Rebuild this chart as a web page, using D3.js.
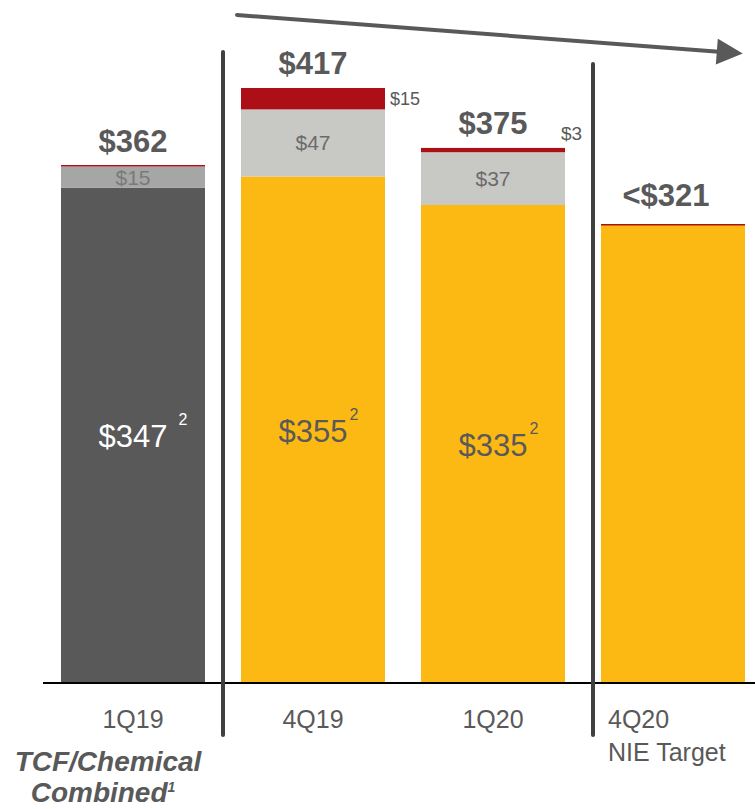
<html>
<head>
<meta charset="UTF-8" />
<script src="https://d3js.org/d3.v7.min.js"></script>
<style>
  body { margin: 0; background: #fff; }
  text { font-family: "Liberation Sans", Arial, sans-serif; }
</style>
</head>
<body>
<div id="chart"></div>
<script>
// data
var categories = ["1Q19", "4Q19", "1Q20", "4Q20"];
var baseValues = [347, 355, 335, 321];
var grayValues = [15, 47, 37, 0];
var redValues = [0, 15, 3, 0];
var totalLabels = ["$362", "$417", "$375", "<$321"];
var baseLabels = ["$347", "$355", "$335", ""];
var subLabels = ["TCF/Chemical", "", "", "NIE Target"];

var W = 755, H = 809;
var svg = d3.select("#chart").append("svg")
  .attr("width", W).attr("height", H);

var x = d3.scaleBand().domain(categories).range([43, 763])
  .paddingInner(0.2).paddingOuter(0.1);
var y = d3.scaleLinear().domain([0, 417]).range([683, 88]);

var baseColor = function(i) { return i == 0 ? "#595959" : "#fdb913"; };
var grayColor = function(i) { return i == 0 ? "#a6a6a6" : "#c8c8c4"; };

// stacked bars
categories.forEach(function(c, i) {
  var b = baseValues[i], g = grayValues[i], r = redValues[i];
  var x0 = x(c), bw = x.bandwidth();
  svg.append("rect").attr("x", x0).attr("y", y(b))
    .attr("width", bw).attr("height", y(0) - y(b)).attr("fill", baseColor(i));
  if (g > 0) {
    svg.append("rect").attr("x", x0).attr("y", y(b + g))
      .attr("width", bw).attr("height", y(b) - y(b + g)).attr("fill", grayColor(i));
  }
  if (r > 0) {
    svg.append("rect").attr("x", x0).attr("y", y(b + g + r))
      .attr("width", bw).attr("height", y(b + g) - y(b + g + r)).attr("fill", "#ac1016");
  } else {
    // thin red cap on bars without a red segment
    svg.append("rect").attr("x", x0).attr("y", Math.round(y(b + g)) - 1)
      .attr("width", bw).attr("height", 1.5).attr("fill", "#ac1016");
  }
  var total = b + g + r;
  var cx = x0 + bw / 2;
  var last = i == categories.length - 1;

  // total label
  svg.append("text").attr("x", last ? cx - 7 : cx).attr("y", y(total) - (last ? 19 : 14))
    .attr("text-anchor", "middle").attr("font-size", 31).attr("font-weight", "bold")
    .attr("fill", "#595959").text(totalLabels[i]);

  // base label with superscript
  if (baseLabels[i]) {
    var ty = (y(0) + y(b)) / 2 + 12;
    var t = svg.append("text").attr("x", cx).attr("y", ty)
      .attr("text-anchor", "middle").attr("font-size", 31)
      .attr("fill", i == 0 ? "#ffffff" : "#595959").text(baseLabels[i]);
    var tw = t.node().getComputedTextLength();
    svg.append("text").attr("x", cx + tw / 2 + (i == 0 ? 11 : 2)).attr("y", ty - 22)
      .attr("font-size", 16).attr("fill", i == 0 ? "#ffffff" : "#595959").text("2");
  }

  // gray label
  if (g > 0) {
    svg.append("text").attr("x", cx).attr("y", (y(b) + y(b + g)) / 2 + 7.5)
      .attr("text-anchor", "middle").attr("font-size", 21)
      .attr("fill", i == 0 ? "#7a7a7a" : "#6b6b6b").text("$" + g);
  }

  // red label outside right
  if (r > 0) {
    var ry = i == 1 ? (y(b + g) + y(b + g + r)) / 2 + 6 : y(b + g + r) - 8;
    var rx = i == 1 ? x0 + bw + 5 : x0 + bw - 4;
    svg.append("text").attr("x", rx).attr("y", ry)
      .attr("font-size", i == 1 ? 18 : 19).attr("fill", "#595959").text("$" + r);
  }
});

// baseline
svg.append("line").attr("x1", 43).attr("x2", W).attr("y1", y(0)).attr("y2", y(0))
  .attr("stroke", "#000").attr("stroke-width", 2);

// category labels
categories.forEach(function(c, i) {
  var last = i == categories.length - 1;
  svg.append("text")
    .attr("x", last ? x(c) + 7 : x(c) + x.bandwidth() / 2)
    .attr("y", 728).attr("text-anchor", last ? "start" : "middle")
    .attr("font-size", 25).attr("fill", "#595959").text(c);
});
svg.append("text").attr("x", x("4Q20") + 7).attr("y", 761)
  .attr("font-size", 25).attr("fill", "#595959").text(subLabels[3]);

var tcf = svg.append("g").attr("fill", "#595959").attr("font-weight", "bold")
  .attr("font-style", "italic").attr("font-size", 28);
tcf.append("text").attr("x", 108).attr("y", 771).attr("text-anchor", "middle").text(subLabels[0]);
var cb = tcf.append("text").attr("x", 103).attr("y", 802).attr("text-anchor", "middle");
cb.append("tspan").text("Combined");
cb.append("tspan").attr("dy", -10).attr("font-size", 14).text("1");

// separators
function sep(xp, y1) {
  svg.append("line").attr("x1", xp).attr("x2", xp).attr("y1", y1).attr("y2", 735)
    .attr("stroke", "#404040").attr("stroke-width", 4).attr("stroke-linecap", "round");
}
sep((x("1Q19") + x.bandwidth() + x("4Q19")) / 2, 52);
sep(x("4Q20") - 8, 64);

// trend arrow
svg.append("defs").append("marker").attr("id", "ah")
  .attr("viewBox", "0 0 10 10").attr("refX", 2).attr("refY", 5)
  .attr("markerWidth", 7.5).attr("markerHeight", 6.5).attr("orient", "auto")
  .attr("markerUnits", "strokeWidth")
  .append("path").attr("d", "M0,0 L10,5 L0,10 z").attr("fill", "#595959");
svg.append("line").attr("x1", 237).attr("y1", 15).attr("x2", 722).attr("y2", 52)
  .attr("stroke", "#595959").attr("stroke-width", 4).attr("stroke-linecap", "round")
  .attr("marker-end", "url(#ah)");
</script>
</body>
</html>
